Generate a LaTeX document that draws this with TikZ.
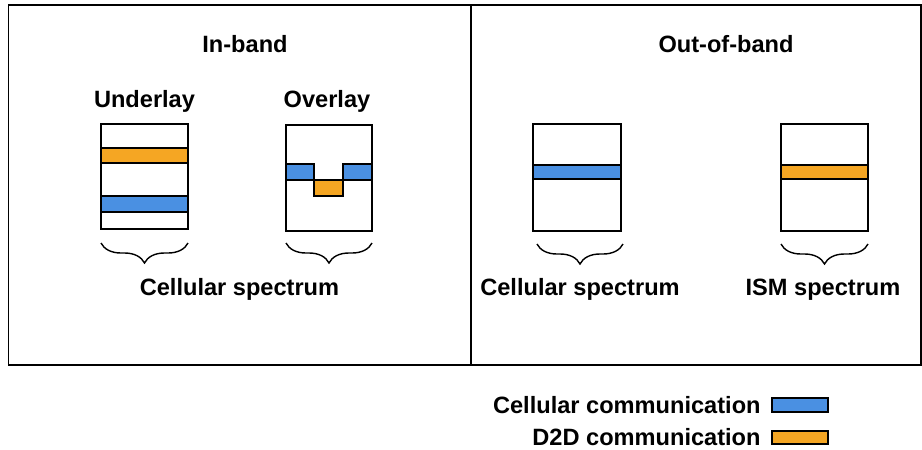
\documentclass[tikz,border=0pt]{standalone}
\usepackage{fontspec}
\setmainfont{Liberation Sans}
\usepackage{xcolor}
\definecolor{cellblue}{RGB}{74,144,226}
\definecolor{d2dorange}{RGB}{245,166,35}
\usetikzlibrary{decorations.pathreplacing,calc}
\tikzset{
  frame/.style={draw=black,line width=0.8pt},
  specbox/.style={draw=black,line width=0.75pt},
  cellband/.style={specbox,fill=cellblue},
  d2dband/.style={specbox,fill=d2dorange},
  spanbrace/.style={decorate,decoration={brace,mirror,amplitude=10pt},line width=0.7pt},
  lbl/.style={font=\fontsize{11.8}{14}\selectfont\bfseries,inner sep=0pt,anchor=base},
}

\begin{document}
\begin{tikzpicture}[x=0.5pt,y=-0.5pt]
\useasboundingbox (0,0) rectangle (922,450);
% outer frame and divider
\draw[frame] (8.5,5) rectangle (921,365);
\draw[frame] (471,5) -- (471,365);

% headings
\node[lbl] (inband) at (245,52) {In-band};
\node[lbl] (outband) at (726,52) {Out-of-band};
\node[lbl] (under) at (144.5,107) {Underlay};
\node[lbl] (over) at (327,107) {Overlay};

% underlay spectrum
\draw[d2dband] (101,148) rectangle (188,163);
\draw[cellband] (101,196) rectangle (188,212);
\draw[specbox] (101,124) rectangle (188,229);

% overlay spectrum
\draw[cellband] (286,164) rectangle (314,180);
\draw[cellband] (343,164) rectangle (372,180);
\draw[d2dband] (314,180) rectangle (343,196);
\draw[specbox] (286,125) rectangle (372,231);

% out-of-band spectra
\draw[cellband] (533,165) rectangle (621,179);
\draw[specbox] (533,124) rectangle (621,231);
\draw[d2dband] (781,165) rectangle (868,179);
\draw[specbox] (781,124) rectangle (868,231);

% braces
\draw[spanbrace] (101,243) -- (188,243);
\draw[spanbrace] (286,243) -- (372,243);
\draw[spanbrace] (537,244) -- (623,244);
\draw[spanbrace] (781,244) -- (868,244);

\node[lbl] (cellspec) at (239.5,295) {Cellular spectrum};
\node[lbl] (cellspec2) at (580,295) {Cellular spectrum};
\node[lbl] (ismspec) at (823,295) {ISM spectrum};

% legend
\node[lbl,anchor=base east] (legcell) at (761,413) {Cellular communication};
\node[lbl,anchor=base east] (legd2d) at (761,445) {D2D communication};
\draw[cellband] (772,398) rectangle (828,412);
\draw[d2dband] (772,431) rectangle (828,444);
\end{tikzpicture}
\end{document}
